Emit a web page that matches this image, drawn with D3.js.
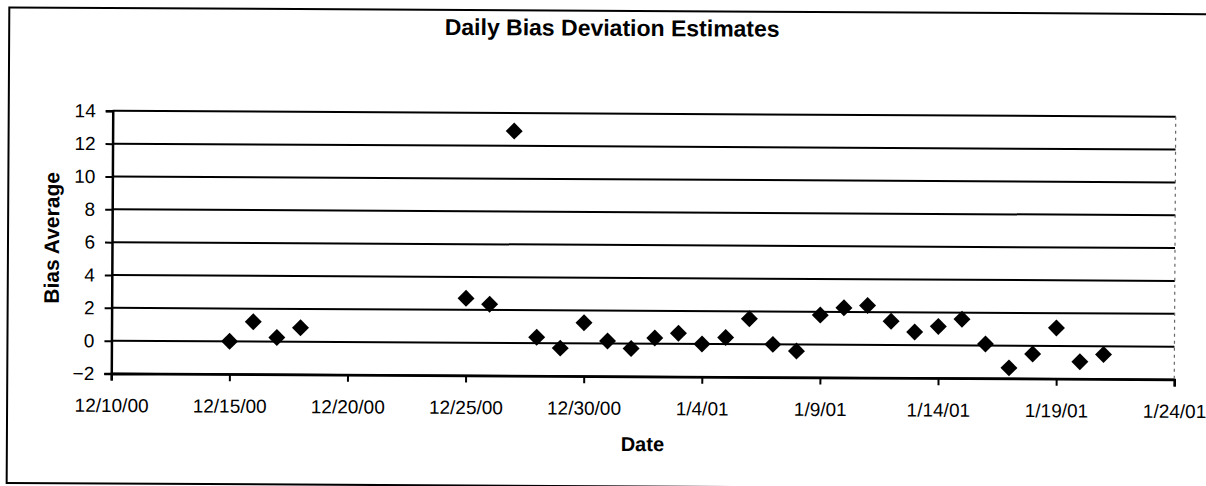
<!DOCTYPE html>
<html>
<head>
<meta charset="utf-8">
<script src="https://cdn.jsdelivr.net/npm/d3@7"></script>
<style>
  html, body { margin: 0; padding: 0; background: #fff; }
  svg { display: block; }
  text { font-family: "Liberation Sans", Arial, sans-serif; fill: #000; }
</style>
</head>
<body>
<svg id="chart" width="1206" height="486"></svg>
<script>
// Data
const dates = [
  "12/15/00", "12/16/00", "12/17/00", "12/18/00",
  "12/25/00", "12/26/00", "12/27/00", "12/28/00", "12/29/00", "12/30/00", "12/31/00",
  "1/1/01", "1/2/01", "1/3/01", "1/4/01", "1/5/01", "1/6/01", "1/7/01", "1/8/01",
  "1/9/01", "1/10/01", "1/11/01", "1/12/01", "1/13/01", "1/14/01", "1/15/01",
  "1/16/01", "1/17/01", "1/18/01", "1/19/01", "1/20/01", "1/21/01"
];
const biasAverage = [
  0.0, 1.2, 0.25, 0.85,
  2.7, 2.35, 12.9, 0.35, -0.3, 1.25, 0.15,
  -0.3, 0.35, 0.65, 0.0, 0.4, 1.55, 0.0, -0.4,
  1.8, 2.25, 2.4, 1.45, 0.8, 1.15, 1.6,
  0.1, -1.35, -0.5, 1.1, -0.95, -0.5
];
const xTickLabels = ["12/10/00", "12/15/00", "12/20/00", "12/25/00", "12/30/00",
  "1/4/01", "1/9/01", "1/14/01", "1/19/01", "1/24/01"];
const yTicks = [-2, 0, 2, 4, 6, 8, 10, 12, 14];

const parseDate = d3.timeParse("%m/%d/%y");
const fmtDate = d3.timeFormat("%-m/%-d/%y");

const points = dates.map((d, i) => ({ date: parseDate(d), value: biasAverage[i] }));
const xTickDates = xTickLabels.map(parseDate);

const svg = d3.select("#chart");

// the scan is a little tilted, so the whole chart is turned slightly
const g = svg.append("g").attr("transform", "rotate(0.32, 643, 245)");

const plot = { left: 112, right: 1175, top: 113.75, bottom: 376.5 };

const x = d3.scaleTime()
  .domain(d3.extent(xTickDates))
  .range([plot.left, plot.right]);
const y = d3.scaleLinear()
  .domain([d3.min(yTicks), d3.max(yTicks)])
  .range([plot.bottom, plot.top]);

// chart area frame (right side runs off the page)
g.append("rect")
  .attr("x", 8).attr("y", 11)
  .attr("width", 1230).attr("height", 475.5)
  .attr("fill", "none").attr("stroke", "#000").attr("stroke-width", 2);

// title
g.append("text")
  .attr("x", 611).attr("y", 36)
  .attr("text-anchor", "middle")
  .style("font-size", "23px").style("font-weight", "bold")
  .text("Daily Bias Deviation Estimates");

// horizontal gridlines
g.append("g")
  .selectAll("line")
  .data(yTicks)
  .join("line")
  .attr("x1", plot.left).attr("x2", plot.right)
  .attr("y1", d => y(d)).attr("y2", d => y(d))
  .attr("stroke", "#000").attr("stroke-width", 2);

// faint right border of the plot area
g.append("line")
  .attr("x1", plot.right).attr("x2", plot.right)
  .attr("y1", plot.top).attr("y2", plot.bottom)
  .attr("stroke", "#666").attr("stroke-width", 1.2)
  .attr("stroke-dasharray", "3,4");

// y axis
const yAxis = g.append("g")
  .attr("transform", `translate(${plot.left},0)`)
  .call(d3.axisLeft(y).tickValues(yTicks).tickSize(7).tickPadding(10).tickFormat(d3.format("d")));
yAxis.select(".domain").attr("stroke", "#000").attr("stroke-width", 2.5);
yAxis.selectAll(".tick line").attr("stroke", "#000").attr("stroke-width", 2);
yAxis.selectAll(".tick text").style("font-size", "19px").attr("fill", "#000");

// x axis
const xAxis = g.append("g")
  .attr("transform", `translate(0,${plot.bottom})`)
  .call(d3.axisBottom(x).tickValues(xTickDates).tickSize(7).tickPadding(18).tickFormat(fmtDate));
xAxis.select(".domain").attr("stroke", "#000").attr("stroke-width", 2.5);
xAxis.selectAll(".tick line").attr("stroke", "#000").attr("stroke-width", 2);
xAxis.selectAll(".tick text").style("font-size", "19px").attr("fill", "#000");

// axis titles
g.append("text")
  .attr("transform", `translate(59,${(plot.top + plot.bottom) / 2 - 4}) rotate(-90)`)
  .attr("text-anchor", "middle")
  .style("font-size", "21px").style("font-weight", "bold")
  .text("Bias Average");

g.append("text")
  .attr("x", (plot.left + plot.right) / 2).attr("y", 451)
  .attr("text-anchor", "middle")
  .style("font-size", "20px").style("font-weight", "bold")
  .text("Date");

// diamond markers
const diamond = d3.symbol().type(d3.symbolSquare).size(144);
g.append("g")
  .selectAll("path")
  .data(points)
  .join("path")
  .attr("d", diamond)
  .attr("transform", d => `translate(${x(d.date)},${y(d.value)}) rotate(45)`)
  .attr("fill", "#000");
</script>
</body>
</html>
